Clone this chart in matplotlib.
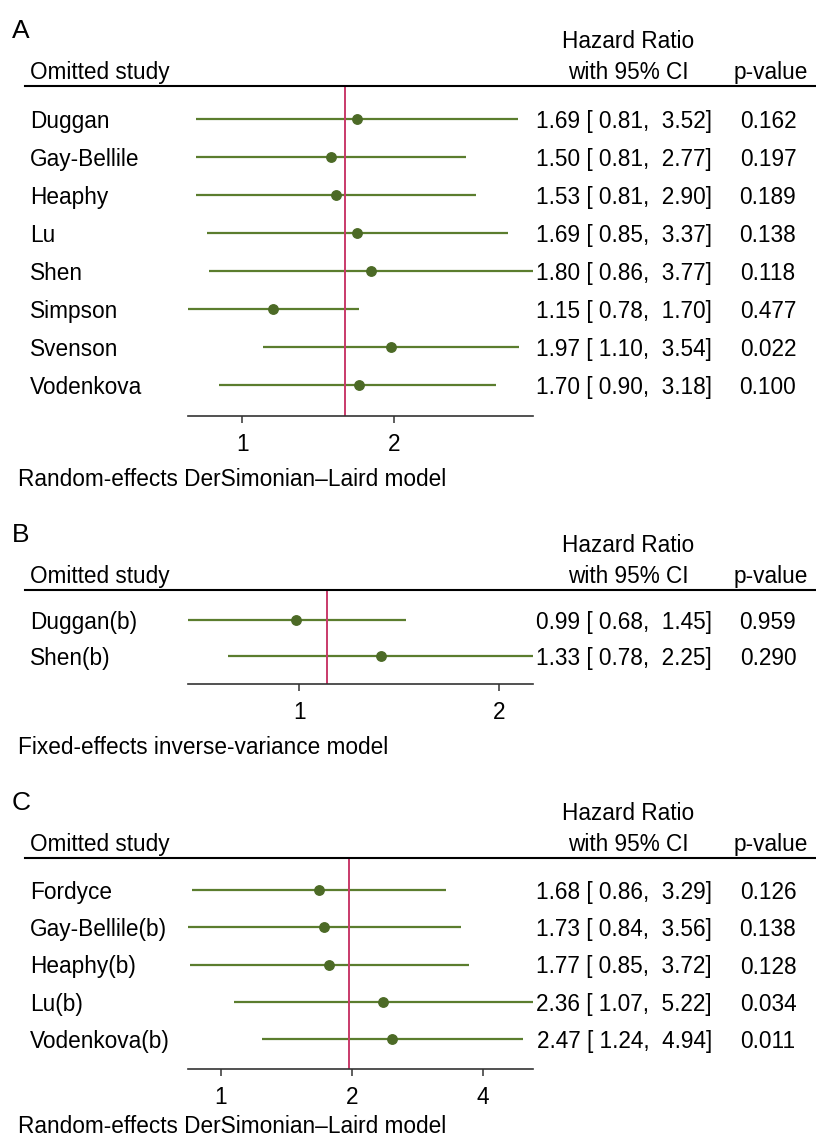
import numpy as np
import matplotlib
matplotlib.use('Agg')
import matplotlib.pyplot as plt
from matplotlib import transforms
from matplotlib.lines import Line2D

# Panel A - random effects, leave-one-out
studies_a = ['Duggan', 'Gay-Bellile', 'Heaphy', 'Lu', 'Shen', 'Simpson', 'Svenson', 'Vodenkova']
hr_a = [1.69, 1.50, 1.53, 1.69, 1.80, 1.15, 1.97, 1.70]
lo_a = [0.81, 0.81, 0.81, 0.85, 0.86, 0.78, 1.10, 0.90]
hi_a = [3.52, 2.77, 2.90, 3.37, 3.77, 1.70, 3.54, 3.18]
p_a = [0.162, 0.197, 0.189, 0.138, 0.118, 0.477, 0.022, 0.100]
overall_a = 1.60
ticks_a = [1, 2]

# Panel B - fixed effects
studies_b = ['Duggan(b)', 'Shen(b)']
hr_b = [0.99, 1.33]
lo_b = [0.68, 0.78]
hi_b = [1.45, 2.25]
p_b = [0.959, 0.290]
overall_b = 1.10
ticks_b = [1, 2]

# Panel C - random effects
studies_c = ['Fordyce', 'Gay-Bellile(b)', 'Heaphy(b)', 'Lu(b)', 'Vodenkova(b)']
hr_c = [1.68, 1.73, 1.77, 2.36, 2.47]
lo_c = [0.86, 0.84, 0.85, 1.07, 1.24]
hi_c = [3.29, 3.56, 3.72, 5.22, 4.94]
p_c = [0.126, 0.138, 0.128, 0.034, 0.011]
overall_c = 1.97
ticks_c = [1, 2, 4]

models = ['Random-effects DerSimonian\u2013Laird model',
          'Fixed-effects inverse-variance model',
          'Random-effects DerSimonian\u2013Laird model']

plt.rcParams['font.family'] = ['Liberation Sans', 'DejaVu Sans']
FS = 16.3
W, H = 816, 1140
GREEN = '#5b7d2e'
DOT = '#4c6a26'
RED = '#c93a6a'

fig = plt.figure(figsize=(W / 100, H / 100), dpi=100)


def fx(x):
    return x / W


def fy(y):
    return 1 - y / H


def panel(letter, studies, hr, lo, hi, pv, overall, ticks, model,
          header_y, step, top_pad, bottom_pad, model_off=70):
    n = len(studies)
    height = top_pad + step * (n - 1) + bottom_pad
    ax = fig.add_axes([fx(188), fy(header_y + height), 345 / W, height / H])
    ax.set_xscale('log')
    ax.set_xlim(min(lo), max(hi))
    ax.set_ylim(n - 1 + bottom_pad / step, -top_pad / step)

    y = np.arange(n)
    ax.hlines(y, lo, hi, color=GREEN, lw=1.6)
    ax.plot(hr, y, 'o', color=DOT, ms=6.8, zorder=3)
    ax.axvline(overall, color=RED, lw=1.4, zorder=2)

    for s in ['top', 'left', 'right']:
        ax.spines[s].set_visible(False)
    ax.spines['bottom'].set_color('#333333')
    ax.spines['bottom'].set_linewidth(1.2)
    ax.set_yticks([])
    ax.set_xticks(ticks)
    ax.set_xticklabels([str(t) for t in ticks])
    ax.xaxis.set_minor_locator(matplotlib.ticker.NullLocator())
    ax.tick_params(axis='x', direction='out', length=5, width=1.1,
                   color='#333333', labelsize=FS, pad=7)

    tr = transforms.blended_transform_factory(fig.transFigure, ax.transData)
    for i in range(n):
        ax.text(fx(30), i, studies[i], transform=tr, fontsize=FS,
                va='center_baseline', ha='left', clip_on=False)
        ax.text(fx(712), i, f'{hr[i]:.2f} [{lo[i]:5.2f}, {hi[i]:5.2f}]',
                transform=tr, fontsize=FS, va='center_baseline', ha='right',
                clip_on=False)
        ax.text(fx(768), i, f'{pv[i]:.3f}', transform=tr, fontsize=FS,
                va='center_baseline', ha='center', clip_on=False)

    # header
    fig.text(fx(12), fy(header_y - 48), letter, fontsize=19, va='baseline')
    fig.text(fx(30), fy(header_y - 7), 'Omitted study', fontsize=FS, va='baseline')
    fig.text(fx(628), fy(header_y - 38), 'Hazard Ratio', fontsize=FS,
             va='baseline', ha='center')
    fig.text(fx(628), fy(header_y - 7), 'with 95% CI', fontsize=FS,
             va='baseline', ha='center')
    fig.text(fx(771), fy(header_y - 7), 'p-value', fontsize=FS,
             va='baseline', ha='center')
    fig.add_artist(Line2D([fx(25), 1], [fy(header_y), fy(header_y)],
                          color='black', lw=1.5, transform=fig.transFigure))
    fig.text(fx(18), fy(header_y + height + model_off), model, fontsize=FS,
             va='baseline')
    return ax


panel('A', studies_a, hr_a, lo_a, hi_a, p_a, overall_a, ticks_a, models[0],
      86, 38, 33, 31)
panel('B', studies_b, hr_b, lo_b, hi_b, p_b, overall_b, ticks_b, models[1],
      590, 36, 30, 28)
panel('C', studies_c, hr_c, lo_c, hi_c, p_c, overall_c, ticks_c, models[2],
      858, 37.25, 32, 30, model_off=64)

fig.savefig('out.png', dpi=100, facecolor='white')
